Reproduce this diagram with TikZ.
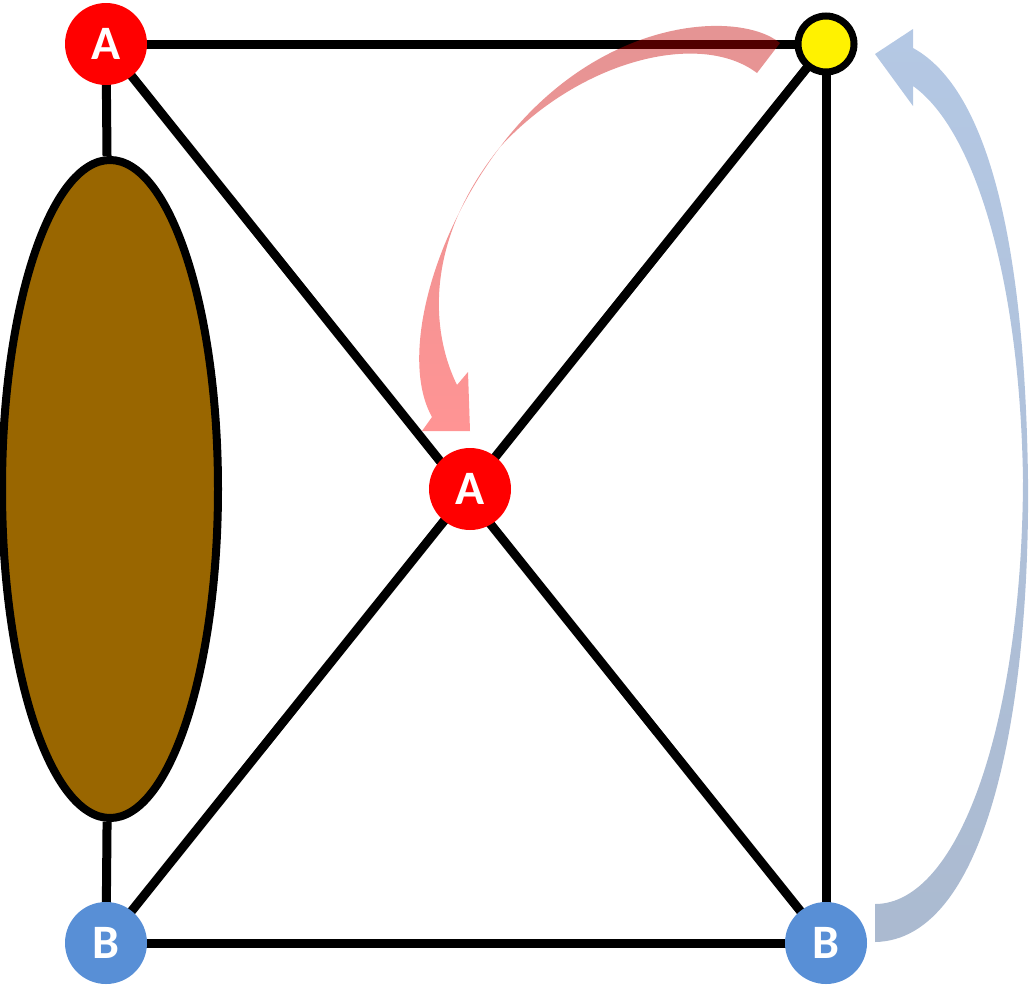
\documentclass[tikz,border=0pt]{standalone}
\usepackage{fontspec}
\setmainfont{Carlito}
\usetikzlibrary{shapes.geometric,backgrounds}
\definecolor{nred}{RGB}{255,0,0}
\definecolor{nblue}{RGB}{88,143,214}
\definecolor{brown}{RGB}{153,102,0}
\begin{document}
\begin{tikzpicture}[x=1pt,y=-1pt,
  lbl/.style={circle,minimum size=82pt,inner sep=0pt,text=white,font=\fontsize{48}{48}\selectfont\bfseries},
  edge/.style={line width=9pt,black}]
\useasboundingbox (0,0) rectangle (1030,1004);
\node[lbl,fill=nred] (A1) at (106,44) {A};
\node[circle,fill=yellow,draw=black,line width=7pt,minimum size=56pt,inner sep=0pt] (Y) at (826,44) {};
\node[lbl,fill=nred] (A2) at (470,489) {A};
\node[lbl,fill=nblue] (B1) at (106,943) {B};
\node[lbl,fill=nblue] (B2) at (826,943) {B};
\node[ellipse,fill=brown,draw=black,line width=8pt,minimum width=216pt,minimum height=658pt,inner sep=0pt] (E) at (110,489) {};
\begin{scope}[on background layer]
\draw[edge] (A1.center) -- (Y.center);
\draw[edge] (A1.center) -- (E);
\draw[edge] (E) -- (B1.center);
\draw[edge] (Y.center) -- (B2.center);
\draw[edge] (B1.center) -- (B2.center);
\draw[edge] (A1.center) -- (B2.center);
\draw[edge] (Y.center) -- (B1.center);
\end{scope}
% red curved arrow
\shade[top color={rgb,255:red,190;green,0;blue,0},bottom color=red,fill opacity=0.42,draw=none]
 (780,43) .. controls (740,10) and (600,15) .. (500,147)
 .. controls (430,240) and (400,360) .. (432,417)
 -- (422,431) -- (470,431) -- (468,372) -- (457,385)
 .. controls (430,330) and (425,240) .. (500,147)
 .. controls (580,60) and (700,30) .. (757,73) -- cycle;
% blue curved arrow
\shade[top color={rgb,255:red,180;green,200;blue,228},bottom color={rgb,255:red,171;green,186;blue,208},draw=none]
 (875,942) .. controls (990,940) and (1030,700) .. (1028,480)
 .. controls (1025,250) and (990,90) .. (913,48)
 -- (913,29) -- (875,54) -- (913,106) -- (913,86)
 .. controls (975,130) and (1020,280) .. (1023,480)
 .. controls (1022,720) and (960,904) .. (875,904) -- cycle;
\end{tikzpicture}
\end{document}
